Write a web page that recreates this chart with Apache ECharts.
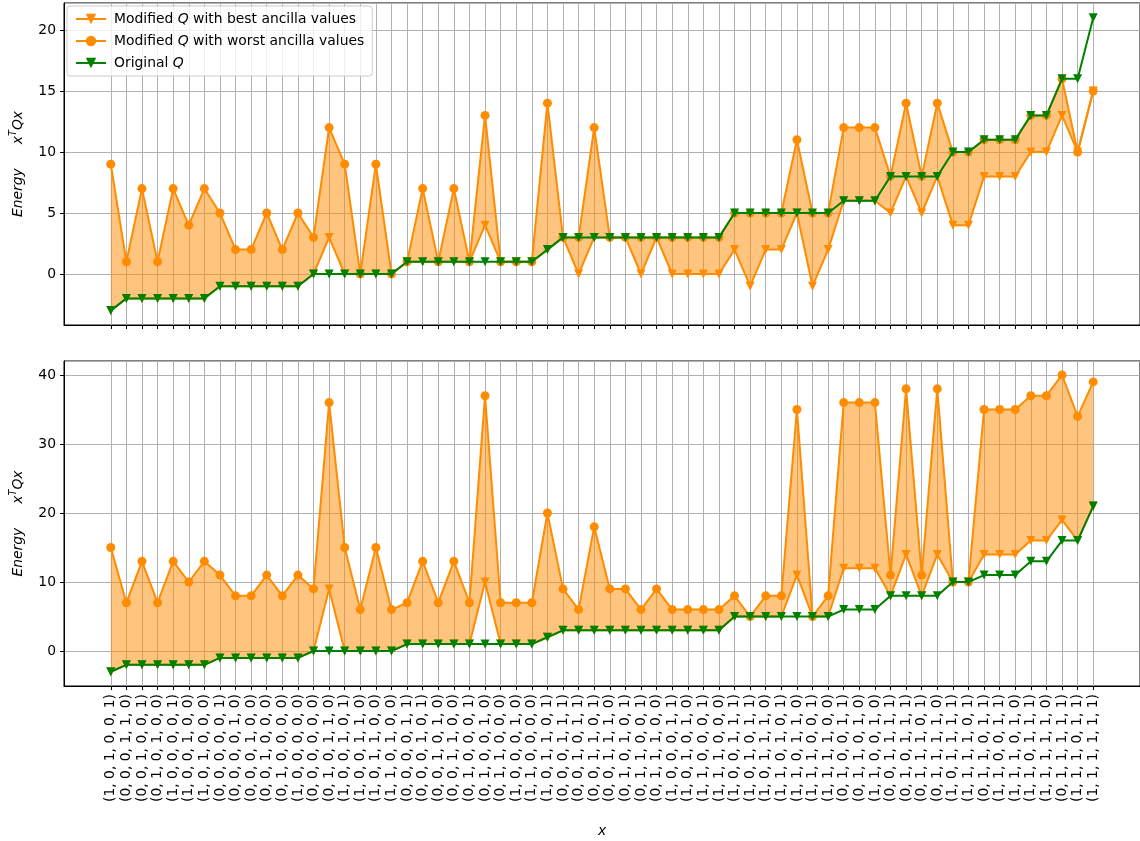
<!DOCTYPE html>
<html>
<head>
<meta charset="utf-8">
<title>Energy of x with original and modified Q</title>
<script src="https://cdn.jsdelivr.net/npm/echarts@6/dist/echarts.min.js"></script>
<style>
  html, body { margin: 0; padding: 0; background: #fff; }
  #chart { width: 1140px; height: 841px; }
</style>
</head>
<body>
<div id="chart"></div>
<script>
// x vectors, in the order they appear along the x axis
var labels = [
  '(1, 0, 1, 0, 0, 1)', '(0, 0, 0, 1, 1, 0)', '(0, 0, 1, 0, 0, 1)', '(0, 1, 0, 1, 0, 0)',
  '(1, 0, 0, 0, 0, 1)', '(1, 0, 0, 1, 0, 0)', '(1, 0, 1, 0, 0, 0)', '(0, 0, 0, 0, 0, 1)',
  '(0, 0, 0, 0, 1, 0)', '(0, 0, 0, 1, 0, 0)', '(0, 0, 1, 0, 0, 0)', '(0, 1, 0, 0, 0, 0)',
  '(1, 0, 0, 0, 0, 0)', '(0, 0, 0, 0, 0, 0)', '(0, 1, 0, 1, 1, 0)', '(1, 0, 0, 1, 0, 1)',
  '(1, 0, 0, 1, 1, 0)', '(1, 0, 1, 1, 0, 0)', '(1, 1, 0, 1, 0, 0)', '(0, 0, 0, 0, 1, 1)',
  '(0, 0, 0, 1, 0, 1)', '(0, 0, 1, 0, 1, 0)', '(0, 0, 1, 1, 0, 0)', '(0, 1, 0, 0, 0, 1)',
  '(0, 1, 0, 0, 1, 0)', '(0, 1, 1, 0, 0, 0)', '(1, 0, 0, 0, 1, 0)', '(1, 1, 0, 0, 0, 0)',
  '(1, 0, 1, 1, 0, 1)', '(0, 0, 0, 1, 1, 1)', '(0, 0, 1, 0, 1, 1)', '(0, 0, 1, 1, 0, 1)',
  '(0, 0, 1, 1, 1, 0)', '(0, 1, 0, 1, 0, 1)', '(0, 1, 1, 0, 0, 1)', '(0, 1, 1, 1, 0, 0)',
  '(1, 0, 0, 0, 1, 1)', '(1, 0, 1, 0, 1, 0)', '(1, 1, 0, 0, 0, 1)', '(1, 1, 1, 0, 0, 0)',
  '(1, 0, 0, 1, 1, 1)', '(1, 0, 1, 0, 1, 1)', '(1, 0, 1, 1, 1, 0)', '(1, 1, 0, 1, 0, 1)',
  '(1, 1, 0, 1, 1, 0)', '(1, 1, 1, 0, 0, 1)', '(1, 1, 1, 1, 0, 0)', '(0, 1, 0, 0, 1, 1)',
  '(0, 1, 1, 0, 1, 0)', '(1, 1, 0, 0, 1, 0)', '(0, 0, 1, 1, 1, 1)', '(0, 1, 0, 1, 1, 1)',
  '(0, 1, 1, 1, 0, 1)', '(0, 1, 1, 1, 1, 0)', '(1, 0, 1, 1, 1, 1)', '(1, 1, 1, 1, 0, 1)',
  '(0, 1, 1, 0, 1, 1)', '(1, 1, 0, 0, 1, 1)', '(1, 1, 1, 0, 1, 0)', '(1, 1, 0, 1, 1, 1)',
  '(1, 1, 1, 1, 1, 0)', '(0, 1, 1, 1, 1, 1)', '(1, 1, 1, 0, 1, 1)', '(1, 1, 1, 1, 1, 1)'
];

// energy with the original Q (same in both panels)
var original = [
  -3, -2, -2, -2, -2, -2, -2, -1, -1, -1, -1, -1, -1, 0, 0, 0,
  0, 0, 0, 1, 1, 1, 1, 1, 1, 1, 1, 1, 2, 3, 3, 3,
  3, 3, 3, 3, 3, 3, 3, 3, 5, 5, 5, 5, 5, 5, 5, 6,
  6, 6, 8, 8, 8, 8, 10, 10, 11, 11, 11, 13, 13, 16, 16, 21
];

// upper panel, modified Q
var topBest = [
  -3, -2, -2, -2, -2, -2, -2, -1, -1, -1, -1, -1, -1, 0, 3, 0,
  0, 0, 0, 1, 1, 1, 1, 1, 4, 1, 1, 1, 2, 3, 0, 3,
  3, 3, 0, 3, 0, 0, 0, 0, 2, -1, 2, 2, 5, -1, 2, 6,
  6, 6, 5, 8, 5, 8, 4, 4, 8, 8, 8, 10, 10, 13, 10, 15
];
var topWorst = [
  9, 1, 7, 1, 7, 4, 7, 5, 2, 2, 5, 2, 5, 3, 12, 9,
  0, 9, 0, 1, 7, 1, 7, 1, 13, 1, 1, 1, 14, 3, 3, 12,
  3, 3, 3, 3, 3, 3, 3, 3, 5, 5, 5, 5, 11, 5, 5, 12,
  12, 12, 8, 14, 8, 14, 10, 10, 11, 11, 11, 13, 13, 16, 10, 15
];

// lower panel, modified Q
var botBest = [
  -3, -2, -2, -2, -2, -2, -2, -1, -1, -1, -1, -1, -1, 0, 9, 0,
  0, 0, 0, 1, 1, 1, 1, 1, 10, 1, 1, 1, 2, 3, 3, 3,
  3, 3, 3, 3, 3, 3, 3, 3, 5, 5, 5, 5, 11, 5, 5, 12,
  12, 12, 8, 14, 8, 14, 10, 10, 14, 14, 14, 16, 16, 19, 16, 21
];
var botWorst = [
  15, 7, 13, 7, 13, 10, 13, 11, 8, 8, 11, 8, 11, 9, 36, 15,
  6, 15, 6, 7, 13, 7, 13, 7, 37, 7, 7, 7, 20, 9, 6, 18,
  9, 9, 6, 9, 6, 6, 6, 6, 8, 5, 8, 8, 35, 5, 8, 36,
  36, 36, 11, 38, 11, 38, 10, 10, 35, 35, 35, 37, 37, 40, 34, 39
];

var NAME_BEST = 'Modified Q with best ancilla values';
var NAME_WORST = 'Modified Q with worst ancilla values';
var NAME_ORIG = 'Original Q';

var ORANGE = '#ff8c00';
var GREEN = '#008000';
var FONT = 'DejaVu Sans';
var FS = 13.9;
var TRI_DOWN = 'path://M0,0L10,0L5,10Z';

// empty slots either side of the data, like matplotlib's x margins
var PAD = 3;
var axisCats = [];
for (var p = 0; p < PAD; p++) axisCats.push(' '.repeat(p + 1));
axisCats = axisCats.concat(labels);
for (var p = 0; p < PAD; p++) axisCats.push('  '.repeat(p + 5));

function realIdx(i) { return i >= PAD && i < PAD + labels.length; }
function pts(arr) { return arr.map(function (v, i) { return [i + PAD, v]; }); }
function diff(a, b) { return a.map(function (v, i) { return [i + PAD, v - b[i]]; }); }

var chart = echarts.init(document.getElementById('chart'));

function xAxisFor(gi, showLabels) {
  return {
    type: 'category', gridIndex: gi, data: axisCats, boundaryGap: false,
    axisLine: { onZero: false, lineStyle: { color: '#000', width: 1 } },
    axisTick: { interval: realIdx, length: 4, alignWithLabel: true, lineStyle: { color: '#000' } },
    axisLabel: {
      show: showLabels, interval: realIdx, rotate: 90, margin: 8,
      fontFamily: FONT, fontSize: FS, color: '#000'
    },
    splitLine: { show: true, interval: realIdx, lineStyle: { color: '#b0b0b0', width: 1 } },
    name: showLabels ? 'x' : '', nameLocation: 'middle', nameGap: 138,
    nameTextStyle: { fontFamily: FONT, fontSize: FS, fontStyle: 'italic', color: '#000' }
  };
}

function yAxisFor(gi, lo, hi, step) {
  return {
    type: 'value', gridIndex: gi, min: lo, max: hi, splitNumber: 5,
    axisLine: { show: true, onZero: false, lineStyle: { color: '#000' } },
    axisTick: { show: true, length: 4, lineStyle: { color: '#000' } },
    axisLabel: {
      margin: 8, fontFamily: FONT, fontSize: FS, color: '#000',
      showMinLabel: false, showMaxLabel: false,
      formatter: function (v) { return Math.abs(v % step) < 1e-6 ? String(v) : ''; }
    },
    splitLine: { show: true, lineStyle: { color: '#b0b0b0', width: 1 } },
    name: '{it|Energy}{gap|}{it|x}{sup|T}{it|Qx}',
    nameLocation: 'middle', nameRotate: 90, nameGap: 36,
    nameTextStyle: {
      color: '#000',
      rich: {
        it: { fontFamily: FONT, fontSize: FS, fontStyle: 'italic', color: '#000', lineHeight: 20 },
        sup: { fontFamily: FONT, fontSize: 9.7, fontStyle: 'italic', color: '#000', verticalAlign: 'top', lineHeight: 20 },
        gap: { width: 24 }
      }
    }
  };
}

function panelSeries(gi, best, worst) {
  var stackId = 'fill' + gi;
  return [
    {
      type: 'line', xAxisIndex: gi, yAxisIndex: gi, data: pts(best),
      stack: stackId, stackStrategy: 'all', symbol: 'none', silent: true,
      lineStyle: { opacity: 0 }, z: 1
    },
    {
      type: 'line', xAxisIndex: gi, yAxisIndex: gi, data: diff(worst, best),
      stack: stackId, stackStrategy: 'all', symbol: 'none', silent: true,
      lineStyle: { opacity: 0 }, areaStyle: { color: ORANGE, opacity: 0.5 }, z: 1
    },
    {
      name: NAME_BEST, type: 'line', xAxisIndex: gi, yAxisIndex: gi, data: pts(best),
      symbol: TRI_DOWN, symbolSize: 9, showAllSymbol: true,
      lineStyle: { color: ORANGE, width: 2 }, itemStyle: { color: ORANGE }, z: 2
    },
    {
      name: NAME_WORST, type: 'line', xAxisIndex: gi, yAxisIndex: gi, data: pts(worst),
      symbol: 'circle', symbolSize: 9, showAllSymbol: true,
      lineStyle: { color: ORANGE, width: 2 }, itemStyle: { color: ORANGE }, z: 3
    },
    {
      name: NAME_ORIG, type: 'line', xAxisIndex: gi, yAxisIndex: gi, data: pts(original),
      symbol: TRI_DOWN, symbolSize: 9, showAllSymbol: true,
      lineStyle: { color: GREEN, width: 2 }, itemStyle: { color: GREEN }, z: 4
    }
  ];
}

var legendRich = {
  best: '{t|Modified }{q|Q}{t| with best ancilla values}',
  worst: '{t|Modified }{q|Q}{t| with worst ancilla values}',
  orig: '{t|Original }{q|Q}'
};

chart.setOption({
  animation: false,
  backgroundColor: '#fff',
  grid: [
    { left: 61, top: 3, width: 1079, height: 322, show: true, borderColor: '#000', borderWidth: 1, containLabel: false },
    { left: 61, top: 361, width: 1079, height: 325, show: true, borderColor: '#000', borderWidth: 1, containLabel: false }
  ],
  legend: {
    data: [NAME_BEST, NAME_WORST, NAME_ORIG],
    orient: 'vertical', left: 67, top: 6,
    backgroundColor: 'rgba(255,255,255,0.8)', borderColor: '#cccccc', borderWidth: 1, borderRadius: 3,
    padding: [6, 8, 6, 8], itemWidth: 30, itemHeight: 13, itemGap: 8,
    formatter: function (n) {
      if (n === NAME_BEST) return legendRich.best;
      if (n === NAME_WORST) return legendRich.worst;
      return legendRich.orig;
    },
    textStyle: {
      color: '#000', fontFamily: FONT, fontSize: FS, padding: [0, 0, 0, 3],
      rich: {
        t: { fontFamily: FONT, fontSize: FS, color: '#000' },
        q: { fontFamily: FONT, fontSize: FS, fontStyle: 'italic', color: '#000' }
      }
    }
  },
  xAxis: [xAxisFor(0, false), xAxisFor(1, true)],
  yAxis: [yAxisFor(0, -4.18, 22.21, 5), yAxisFor(1, -5.07, 42.03, 10)],
  series: panelSeries(0, topBest, topWorst).concat(panelSeries(1, botBest, botWorst))
});
</script>
</body>
</html>
